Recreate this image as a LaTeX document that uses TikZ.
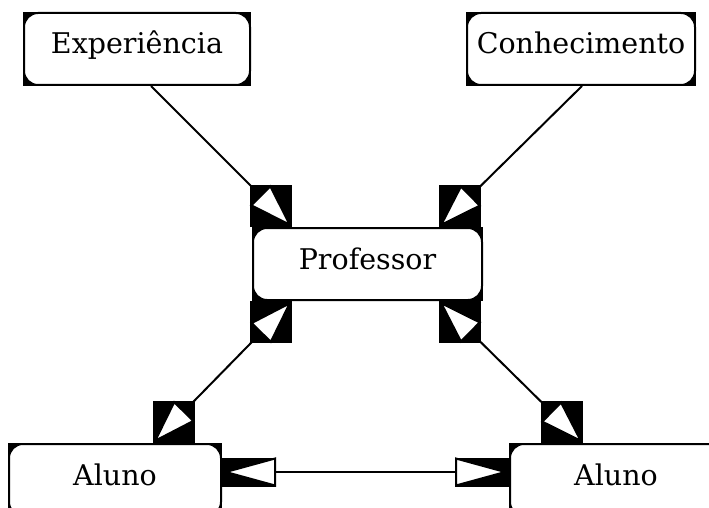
\documentclass[tikz,border=0pt]{standalone}
\usepackage{fontspec}
\setmainfont{DejaVu Serif}
\usetikzlibrary{positioning,arrows.meta,backgrounds,decorations.markings}

% bloco preto atras de cada ponta: #1 comprimento, #2 largura, #3 sentido
\newcommand\tipblock[3]{%
  \pgfgettransformentries{\ta}{\tb}{\tc}{\td}{\te}{\tf}%
  \pgfmathsetmacro\ux{#3*#1*\ta}\pgfmathsetmacro\uy{#3*#1*\tb}%
  \pgfmathsetmacro\vx{0.5*#2*\tc}\pgfmathsetmacro\vy{0.5*#2*\td}%
  \pgfmathsetmacro\xa{min(0,\ux+\vx,\ux-\vx)}%
  \pgfmathsetmacro\xb{max(0,\ux+\vx,\ux-\vx)}%
  \pgfmathsetmacro\ya{min(0,\uy+\vy,\uy-\vy)}%
  \pgfmathsetmacro\yb{max(0,\uy+\vy,\uy-\vy)}%
  \pgftransformresetnontranslations
  \fill[black] (\xa pt,\ya pt) rectangle (\xb pt,\yb pt);%
}

\begin{document}
\begin{tikzpicture}[
  x=1pt, y=-1pt,
  font=\fontsize{28.5}{34}\selectfont,
  box/.style   = {draw, line width=2pt, fill=white, rounded corners=14pt,
                  minimum height=72pt, inner sep=2pt,
                  text height=22pt, text depth=12pt},
  link/.style  = {line width=2pt},
  ponta/.tip   = {Triangle[open, fill=white, length=45pt, width=29pt]},
  pontah/.tip  = {Triangle[open, fill=white, length=54pt, width=29pt]},
  fimbloco/.style  = {preaction={decorate, decoration={markings,
      mark=at position 1 with {\tipblock{45}{29}{-1}}}}},
  doisblocos/.style = {preaction={decorate, decoration={markings,
      mark=at position 0 with {\tipblock{45}{29}{1}},
      mark=at position 1 with {\tipblock{45}{29}{-1}}}}},
  doisblocosh/.style = {preaction={decorate, decoration={markings,
      mark=at position 0 with {\tipblock{54}{29}{1}},
      mark=at position 1 with {\tipblock{54}{29}{-1}}}}}
]
\useasboundingbox (0,0) rectangle (709,508);

% ------------------------------------------------------------------ caixas --
\node[box, minimum width=229pt] at (367.5,264)           (prof) {Professor};
\node[box, minimum width=226pt, above left=141pt and 1pt of prof]   (exp) {Experiência};
\node[box, minimum width=228pt, above right=141pt and -17pt of prof] (con) {Conhecimento};
\node[box, minimum width=212pt, below left=142pt and 30pt of prof]  (alA) {Aluno};
\node[box, minimum width=212pt, below right=142pt and 26pt of prof] (alB) {Aluno};

\begin{scope}[on background layer]
  \foreach \n in {prof,exp,con,alA,alB}
    \fill[black] (\n.south west) rectangle (\n.north east);
\end{scope}

% ------------------------------------------------------------------- setas --
\draw[link, -ponta, fimbloco] ([xshift=14pt]exp.south) -- ([xshift=40pt]prof.north west);
\draw[link, -ponta, fimbloco] ([xshift=1pt]con.south) -- ([xshift=-44pt]prof.north east);
\draw[link, ponta-ponta, doisblocos] ([xshift=40pt]prof.south west) -- ([xshift=38pt]alA.north);
\draw[link, ponta-ponta, doisblocos] ([xshift=-44pt]prof.south east) -- ([xshift=74pt]alB.north west);
\draw[link, pontah-pontah, doisblocosh] ([yshift=8pt]alA.east) -- ([yshift=8pt]alB.west);

\end{tikzpicture}
\end{document}
